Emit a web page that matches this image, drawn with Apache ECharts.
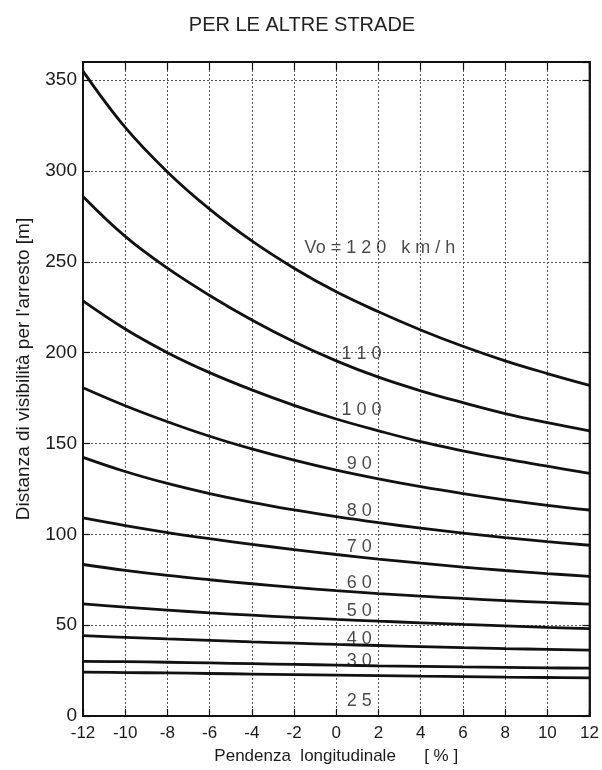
<!DOCTYPE html>
<html>
<head>
<meta charset="utf-8">
<script src="https://cdn.jsdelivr.net/npm/echarts@6/dist/echarts.min.js"></script>
<style>html,body{margin:0;padding:0;background:#fff}#c{width:602px;height:770px}</style>
</head>
<body>
<div id="c"></div>
<script>
// Gradient (%) categories
const grades = [-12, -10, -8, -6, -4, -2, 0, 2, 4, 6, 8, 10, 12];
// Stopping sight distances [m] per design speed
const v120 = [355, 324, 299.5, 279, 261.5, 246.5, 233.5, 222.5, 212.5, 203.5, 195.5, 188.5, 182];
const v110 = [286, 264, 246.5, 231.5, 218, 206, 195.5, 186.5, 179, 172.5, 166.5, 161.5, 157];
const v100 = [228.5, 213, 200, 189, 179.5, 171, 163.5, 157, 151, 146, 141.5, 137.5, 133.5];
const v90  = [180.7, 170.8, 162, 154, 147, 140.8, 135.3, 130.5, 126.2, 122.4, 119, 116, 113.4];
const v80  = [142.4, 134.6, 128, 122.4, 117.6, 113.4, 109.7, 106.4, 103.4, 100.7, 98.2, 96, 94];
const v70  = [109, 104.8, 101, 97.6, 94.5, 91.6, 88.9, 86.4, 84.1, 82, 80.1, 78.4, 76.9];
const v60  = [83.4, 80.2, 77.4, 75, 72.8, 70.8, 69, 67.4, 66, 64.7, 63.5, 62.5, 61.6];
const v50  = [61.7, 59.9, 58.3, 56.8, 55.5, 54.3, 53.2, 52.2, 51.3, 50.4, 49.6, 48.8, 48.1];
const v40  = [44.2, 43.3, 42.4, 41.6, 40.8, 40.1, 39.4, 38.8, 38.2, 37.6, 37.1, 36.7, 36.3];
const v30  = [30.1, 29.9, 29.6, 29.2, 28.8, 28.4, 28, 27.6, 27.3, 27, 26.8, 26.5, 26.3];
const v25  = [24.1, 23.9, 23.7, 23.4, 23.1, 22.8, 22.5, 22.2, 21.9, 21.7, 21.4, 21.2, 21];
// Curve labels (text, anchor grade, anchor distance)
const labelTexts = ['Vo = 1 2 0   k m / h', '1 1 0', '1 0 0', '9 0', '8 0', '7 0', '6 0', '5 0', '4 0', '3 0', '2 5'];
const labelX = [-1.5, 0.25, 0.25, 0.5, 0.5, 0.5, 0.5, 0.5, 0.5, 0.5, 0.5];
const labelY = [257.5, 199.5, 168.5, 138.8, 112.6, 93.1, 73, 57.8, 42.3, 30.4, 8];
// Tick labels
const xTicks = grades.map(String);
const yTicks = ['0', '50', '100', '150', '200', '250', '300', '350'];

const curves = [v120, v110, v100, v90, v80, v70, v60, v50, v40, v30, v25];
const FONT = 'Arial, "Liberation Sans", sans-serif';

const chart = echarts.init(document.getElementById('c'));
const series = curves.map(vals => ({
  type: 'line',
  data: grades.map((g, i) => [g, vals[i]]),
  smooth: 0.4,
  showSymbol: false,
  symbol: 'none',
  lineStyle: { color: '#111', width: 2.8 },
  silent: true,
  z: 3
}));
series.push({
  type: 'scatter',
  symbolSize: 0,
  data: labelTexts.map((t, i) => ({ value: [labelX[i], labelY[i]], name: t })),
  label: {
    show: true,
    position: 'right',
    distance: 0,
    formatter: p => p.name,
    color: '#1a1a1a',
    fontSize: 18,
    fontFamily: FONT
  },
  z: 4,
  silent: true
});

chart.setOption({
  animation: false,
  backgroundColor: '#fff',
  title: {
    text: 'PER LE ALTRE STRADE',
    left: 297,
    textAlign: 'center',
    top: 10,
    textStyle: { fontSize: 20, fontWeight: 'normal', color: '#222', fontFamily: FONT }
  },
  grid: { left: 83, right: 11, top: 62, bottom: 50, show: true, borderColor: '#111', borderWidth: 1.8, backgroundColor: 'transparent' },
  xAxis: [{
    type: 'value', min: -12, max: 12, interval: 2, position: 'bottom',
    name: 'Pendenza  longitudinale      [ % ]', nameLocation: 'middle', nameGap: 32,
    nameTextStyle: { fontSize: 17, color: '#1a1a1a', fontFamily: FONT },
    axisLine: { show: true, onZero: false, lineStyle: { color: '#111', width: 1.8 } },
    axisTick: { show: true, inside: true, length: 7, lineStyle: { color: '#111', width: 1.2 } },
    axisLabel: { fontSize: 17, color: '#1a1a1a', fontFamily: FONT, margin: 9, formatter: v => xTicks[grades.indexOf(v)] },
    splitLine: { show: true, lineStyle: { color: '#555', type: [2, 2], width: 1 } }
  }, {
    type: 'value', min: -12, max: 12, interval: 2, position: 'top',
    axisLine: { show: true, onZero: false, lineStyle: { color: '#111', width: 1.8 } },
    axisTick: { show: true, inside: true, length: 8, lineStyle: { color: '#111', width: 1.2 } },
    axisLabel: { show: false }, splitLine: { show: false }
  }],
  yAxis: [{
    type: 'value', min: 0, max: 360, interval: 50, position: 'left',
    name: "Distanza di visibilità per l'arresto [m]", nameLocation: 'middle', nameGap: 50,
    nameTextStyle: { fontSize: 19, color: '#1a1a1a', fontFamily: FONT, padding: [0, 0, 0, 40] },
    axisLine: { show: true, onZero: false, lineStyle: { color: '#111', width: 1.8 } },
    axisTick: { show: true, inside: true, length: 7, lineStyle: { color: '#111', width: 1.2 } },
    axisLabel: { fontSize: 19, color: '#1a1a1a', fontFamily: FONT, margin: 6, showMaxLabel: false,
      formatter: v => { const i = v / 50; return Number.isInteger(i) && yTicks[i] !== undefined ? yTicks[i] : ''; } },
    splitLine: { show: true, lineStyle: { color: '#555', type: [2, 2], width: 1 } }
  }, {
    type: 'value', min: 0, max: 360, interval: 50, position: 'right',
    axisLine: { show: true, onZero: false, lineStyle: { color: '#111', width: 1.8 } },
    axisTick: { show: true, inside: true, length: 7, lineStyle: { color: '#111', width: 1.2 } },
    axisLabel: { show: false }, splitLine: { show: false }
  }],
  series: series
});
</script>
</body>
</html>
